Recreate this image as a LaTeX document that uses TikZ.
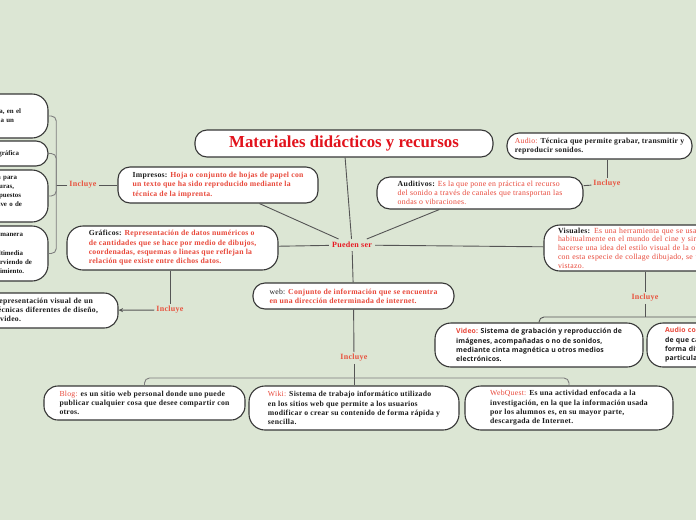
\documentclass[tikz,border=0pt]{standalone}
\usepackage{fontspec}
\setmainfont{Liberation Serif}[LetterSpace=3.5]
\newfontfamily\titlef{Liberation Serif}
\newfontfamily\sansf{Open Sans}[LetterSpace=2]
\usetikzlibrary{arrows.meta}
\definecolor{bg}{RGB}{220,230,212}
\definecolor{boxline}{RGB}{55,55,55}
\definecolor{connc}{RGB}{85,85,85}
\definecolor{busc}{RGB}{125,125,125}
\definecolor{redt}{RGB}{232,72,58}
\definecolor{titlered}{RGB}{226,18,28}
\definecolor{pred}{RGB}{232,24,34}
\definecolor{inclred}{RGB}{232,82,62}
\definecolor{ink}{RGB}{28,28,28}
\newcommand\bfnt{\fontsize{7.7}{9.3}\selectfont\bfseries}
\newcommand\lfnt{\titlef\fontsize{6.9}{9.3}\selectfont\bfseries}
\newcommand\rgfnt{\fontsize{7.8}{8.7}\selectfont}
\newcommand\sfnt{\sansf\fontsize{6.9}{9.2}\selectfont\bfseries}
\tikzset{
 box/.style={draw=boxline, fill=white, line width=1.1pt, rounded corners=12pt, inner sep=0pt, align=left, text=ink, font=\bfnt},
 lbox/.style={box, minimum width=248pt, text width=220pt, font=\lfnt},
 conn/.style={draw=connc, line width=0.9pt},
 bus/.style={draw=busc, line width=0.9pt, rounded corners=5pt},
 incl/.style={text=inclred, font=\fontsize{8}{9}\selectfont\bfseries, inner sep=2pt},
}
\begin{document}
\begin{tikzpicture}[x=1pt,y=-1pt]
\useasboundingbox[fill=bg] (0,0) rectangle (696,520);

% central
\node[box, minimum width=298pt, minimum height=27pt, align=center, text=titlered,
      font=\titlef\fontsize{16.8}{18}\selectfont\bfseries] (title) at (344,143.5) {Materiales didácticos y recursos};
\node[text=pred, font=\fontsize{8}{9}\selectfont\bfseries, inner sep=3pt] (pueden) at (352,245) {Pueden ser};

% first level
\node[box, minimum width=200pt, minimum height=36pt, text=redt] (impresos) at (218,185)
 {\textcolor{ink}{Impresos:} Hoja o conjunto de hojas de papel con\\ un texto que ha sido reproducido mediante la\\ técnica de la imprenta.};
\node[box, minimum width=211pt, minimum height=44pt, text=redt, rounded corners=16pt] (graficos) at (172.5,248)
 {\textcolor{ink}{Gráficos:} Representación de datos numéricos o\\ de cantidades que se hace por medio de dibujos,\\ coordenadas, esquemas o lineas que reflejan la\\ relación que existe entre dichos datos.};
\node[box, minimum width=206pt, minimum height=32pt, text=redt, font=\rgfnt, rounded corners=13pt] (auditivos) at (480,193)
 {\textcolor{ink}{\bfseries Auditivos:} Es la que pone en práctica el recurso\\ del sonido a través de canales que transportan las\\ ondas o vibraciones.};
\node[box, minimum width=185pt, minimum height=26pt] (audio) at (599.5,146)
 {\textcolor{redt}{\mdseries Audio:} Técnica que permite grabar, transmitir y\\ reproducir sonidos.};
\node[box, minimum width=256pt, minimum height=46pt, text width=228pt, text=redt, font=\rgfnt, rounded corners=16pt] (visuales) at (672,248)
 {\textcolor{ink}{\bfseries Visuales:} Es una herramienta que se usa bastante\\ habitualmente en el mundo del cine y sirve para\\ hacerse una idea del estilo visual de la obra, y\\ con esta especie de collage dibujado, se ve de un\\ vistazo.};
\node[box, minimum width=201pt, minimum height=26pt, text=redt] (web) at (353.5,296)
 {\textcolor{ink}{\mdseries web:} Conjunto de información que se encuentra\\ en una dirección determinada de internet.};

% Incluye labels
\node[incl] (inclL) at (83,185) {Incluye};
\node[incl] (inclG) at (170,310) {Incluye};
\node[incl] (inclA) at (607,184) {Incluye};
\node[incl] (inclV) at (645,298) {Incluye};
\node[incl] (inclW) at (354,358) {Incluye};

% left cut-off nodes
\node[lbox, minimum height=44pt, rounded corners=16pt] (L1) at (-76,116)
 {\makebox[207pt][r]{Libro: obra impresa y encuadernada, en el}\\ \makebox[200pt][r]{que se presenta un tema a un}};
\node[lbox, minimum height=25pt] (L2) at (-76,153.5)
 {\makebox[205pt][r]{Revista o prensa gráfica}};
\node[lbox, minimum height=52pt, rounded corners=16pt] (L3) at (-76,196)
 {\makebox[203pt][r]{Diccionario: libro de consulta para}\\
  \makebox[200pt][r]{facilitar la comprensión de lecturas,}\\
  \makebox[207pt][r]{con términos simples y compuestos}\\
  \makebox[208pt][r]{ordenados por palabra clave o de}\\
  una lengua.};
\node[lbox, minimum height=55pt, rounded corners=16pt] (L4) at (-76,253.5)
 {\makebox[209pt][r]{Multimedia: se define de manera}\\
  general como\\
  \makebox[209pt][r]{el uso de recursos multimedia}\\
  \makebox[218pt][r]{que se integran sirviendo de}\\
  \makebox[210pt][r]{apoyo al conocimiento.}};
\node[box, minimum width=268pt, minimum height=35pt, text width=240pt, rounded corners=14pt] (L5) at (-16,310.5)
 {\makebox[229pt][r]{Infografía: es una representación visual de un}\\
  \makebox[234pt][r]{tema que combina técnicas diferentes de diseño,}\\
  \makebox[157pt][r]{como textos, imágenes o video.}};

% right lower nodes
\node[box, minimum width=208pt, minimum height=44pt, font=\sfnt, rounded corners=16pt] (video) at (539,345)
 {\textcolor{redt}{Video:} Sistema de grabación y reproducción de\\ imágenes, acompañadas o no de sonidos,\\ mediante cinta magnética u otros medios\\ electrónicos.};
\node[box, minimum width=213pt, minimum height=44pt, text width=177pt, font=\sfnt, rounded corners=16pt] (audio2) at (753.5,345)
 {\textcolor{redt}{Audio convencional:} Se basa en la idea\\ de que cada persona aprende de\\ forma diferente, según su estilo\\ particular de aprendizaje.};

% bottom nodes
\node[box, minimum width=201pt, minimum height=34pt, rounded corners=14pt] (blog) at (144.5,403)
 {\textcolor{redt}{\mdseries Blog:} es un sitio web personal donde uno puede\\ publicar cualquier cosa que desee compartir con\\ otros.};
\node[box, minimum width=210pt, minimum height=44pt, rounded corners=16pt] (wiki) at (354,408)
 {\textcolor{redt}{\mdseries Wiki:} Sistema de trabajo informático utilizado\\ en los sitios web que permite a los usuarios\\ modificar o crear su contenido de forma rápida y\\ sencilla.};
\node[box, minimum width=208pt, minimum height=44pt, rounded corners=16pt] (webquest) at (569,408)
 {\textcolor{redt}{\mdseries WebQuest:} Es una actividad enfocada a la\\ investigación, en la que la información usada\\ por los alumnos es, en su mayor parte,\\ descargada de Internet.};

% connectors to centre
\draw[conn] (title) -- (pueden);
\draw[conn] (impresos) -- (pueden);
\draw[conn] (auditivos) -- (pueden);
\draw[conn] (graficos) -- (pueden);
\draw[conn] (pueden) -- (visuales);
\draw[conn] (pueden) -- (web);

% Impresos branch
\draw[conn] (impresos) -- (inclL);
\draw[conn] (inclL.west) -- ++(-11,0) coordinate (lbus);
\draw[bus] (L1.east) -| (lbus);
\draw[bus] (L2.east) -| (lbus);
\draw[bus] (L3.east) -| (lbus);
\draw[bus] (L4.east) -| (lbus);

% Graficos branch
\draw[conn] (graficos.south -| inclG) -- (inclG);
\draw[conn, -{Stealth[length=4.5pt,width=4pt]}] (inclG) -- (L5);

% Auditivos branch
\draw[conn] (auditivos) -- (inclA);
\draw[conn] (audio.south -| inclA) -- (inclA);

% Visuales branch
\draw[conn] (visuales.south -| inclV) -- (inclV);
\coordinate (rbus) at (645,317);
\draw[conn] (inclV) -- (rbus);
\draw[bus, draw=connc] (video.north) |- (rbus) -| (audio2.north);

% web branch
\draw[conn] (web) -- (inclW);
\coordinate (bbus) at (354,378);
\draw[conn] (inclW) -- (bbus);
\draw[bus, draw=busc] (blog.north) |- (bbus) -| (webquest.north);
\draw[conn] (bbus) -- (wiki.north);
\end{tikzpicture}
\end{document}
